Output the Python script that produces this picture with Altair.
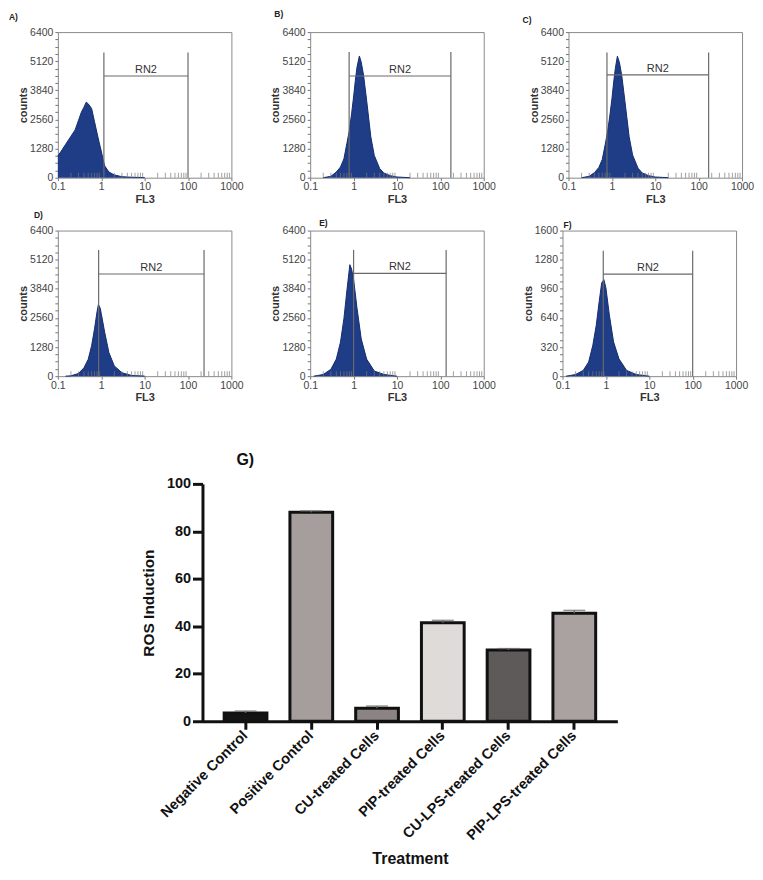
import altair as alt
import pandas as pd

FONT = "Liberation Sans"

# ---------------- Flow cytometry histograms (FL3 vs counts) ----------------
A_X = [0.1, 0.12, 0.15, 0.2, 0.25, 0.3, 0.35, 0.4, 0.45, 0.5, 0.6, 0.7, 0.8, 0.9, 1.0, 1.1, 1.2, 1.5, 2, 3, 5, 10]
A_Y = [960, 1170, 1460, 1820, 2100, 2530, 2890, 3100, 3320, 3250, 3040, 2460, 1960, 1530, 1170, 815, 520, 250, 120, 45, 20, 5]

B_X = [0.2, 0.3, 0.4, 0.5, 0.6, 0.7, 0.8, 0.9, 1.0, 1.1, 1.2, 1.36, 1.5, 1.7, 2.0, 2.5, 3, 4, 5, 7, 10, 20]
B_Y = [0, 60, 250, 470, 835, 1500, 2080, 2810, 3545, 4280, 4860, 5350, 5080, 4500, 3400, 1790, 980, 400, 205, 90, 30, 0]

C_X = [0.2, 0.3, 0.4, 0.5, 0.6, 0.7, 0.8, 0.9, 1.0, 1.1, 1.2, 1.34, 1.5, 1.7, 2.0, 2.5, 3, 4, 5, 7, 10, 20]
C_Y = [0, 60, 230, 450, 800, 1450, 2050, 2750, 3450, 4200, 4800, 5340, 5050, 4450, 3350, 1800, 1000, 420, 210, 90, 30, 0]

D_X = [0.15, 0.2, 0.3, 0.4, 0.5, 0.6, 0.7, 0.8, 0.86, 0.95, 1.0, 1.2, 1.5, 2, 3, 5, 10]
D_Y = [0, 15, 120, 370, 740, 1340, 2080, 2830, 3150, 2980, 2750, 1930, 1040, 450, 150, 30, 5]

E_X = [0.12, 0.15, 0.2, 0.3, 0.4, 0.5, 0.6, 0.7, 0.82, 0.9, 1.0, 1.2, 1.5, 2, 3, 5, 10]
E_Y = [0, 30, 75, 300, 750, 1500, 2540, 3740, 4900, 4710, 4260, 2990, 1640, 750, 225, 75, 0]

F_X = [0.12, 0.15, 0.2, 0.3, 0.4, 0.5, 0.6, 0.7, 0.8, 0.9, 1.0, 1.2, 1.5, 2, 3, 5, 10]
F_Y = [0, 7, 18, 63, 155, 340, 560, 820, 1025, 1060, 970, 673, 377, 190, 63, 18, 0]

# RN2 gate: left, right, vertical-line top, horizontal-line level
GATE_A = [1.15, 100, 5500, 4470]
GATE_B = [0.79, 175, 5520, 4470]
GATE_C = [0.77, 170, 5500, 4520]
GATE_D = [0.87, 234, 5550, 4490]
GATE_E = [1.0, 136, 5550, 4520]
GATE_F = [0.87, 100, 1378, 1122]

YMAX = [6400, 6400, 6400, 6400, 6400, 1600]
TAGS = ["A)", "B)", "C)", "D)", "E)", "F)"]

X_MAJOR = [0.1, 1, 10, 100, 1000]
X_MINOR = [0.2, 0.3, 0.4, 0.5, 0.6, 0.7, 0.8, 0.9,
           2, 3, 4, 5, 6, 7, 8, 9,
           20, 30, 40, 50, 60, 70, 80, 90,
           200, 300, 400, 500, 600, 700, 800, 900]

# ---------------- Bar chart (G) ----------------
TREATMENTS = ["Negative Control", "Positive Control", "CU-treated Cells",
              "PIP-treated Cells", "CU-LPS-treated Cells", "PIP-LPS-treated Cells"]
ROS = [3.5, 88.0, 5.5, 41.5, 30.0, 45.5]
ERR = [0.8, 0.6, 0.9, 1.0, 0.6, 1.2]
BAR_COLORS = ["#141414", "#a59e9d", "#8b8384", "#dedbd8", "#5f5a5a", "#a9a2a1"]

PW, PH = 174, 146
BLUE = "#1f3c86"
GATE_COLOR = "#6a6a6a"


def hist_panel(tag, xs, ys, gate, ymax, tag_dx, tag_dy):
    df = pd.DataFrame({"fl3": xs, "counts": ys})
    xscale = alt.Scale(type="log", domain=[0.1, 1000], nice=False)
    yscale = alt.Scale(domain=[0, ymax], nice=False, zero=True)
    major = int(ymax / 5)
    minor = major / 4
    yvals = [i * minor for i in range(21)]

    xaxis = alt.Axis(values=X_MAJOR, format="~g", title="FL3", grid=False, domain=False,
                     tickSize=3, tickColor="#777", labelFont=FONT, labelFontSize=10.5,
                     labelColor="#444", labelPadding=1, titleFont=FONT, titleFontSize=11,
                     titleFontWeight="bold", titleColor="#333", titlePadding=1, labelFlush=False)
    yaxis = alt.Axis(values=yvals, format="d",
                     labelExpr=f"datum.value % {major} == 0 ? datum.label : ''",
                     title="counts", grid=False, domain=False, tickSize=3, tickColor="#777",
                     labelFont=FONT, labelFontSize=10.5, labelColor="#444", labelPadding=2,
                     titleFont=FONT, titleFontSize=11, titleFontWeight="bold",
                     titleColor="#333", titlePadding=1, labelFlush=False)

    area = alt.Chart(df).mark_area(
        color=BLUE, opacity=1, interpolate="linear",
        line={"color": "#132d6e", "strokeWidth": 1}
    ).encode(
        x=alt.X("fl3:Q", scale=xscale, axis=xaxis),
        y=alt.Y("counts:Q", scale=yscale, axis=yaxis),
    )

    minor_df = pd.DataFrame({"fl3": X_MINOR})
    minor_ticks = alt.Chart(minor_df).mark_tick(
        orient="vertical", color="#777", thickness=1, size=5
    ).encode(x=alt.X("fl3:Q", scale=xscale, axis=xaxis), y=alt.value(PH - 2.5))

    left, right, top, level = gate
    vdf = pd.DataFrame({"fl3": [left, right], "counts": [0, 0], "counts_top": [top, top]})
    vlines = alt.Chart(vdf).mark_rule(color=GATE_COLOR, strokeWidth=1.2).encode(
        x=alt.X("fl3:Q", scale=xscale, axis=xaxis),
        y=alt.Y("counts:Q", scale=yscale, axis=yaxis),
        y2="counts_top:Q",
    )
    hdf = pd.DataFrame({"fl3": [left], "fl3_end": [right], "counts": [level]})
    hline = alt.Chart(hdf).mark_rule(color=GATE_COLOR, strokeWidth=1.2).encode(
        x=alt.X("fl3:Q", scale=xscale, axis=xaxis),
        x2="fl3_end:Q",
        y=alt.Y("counts:Q", scale=yscale, axis=yaxis),
    )
    tdf = pd.DataFrame({"fl3": [(left * right) ** 0.5], "counts": [level], "t": ["RN2"]})
    rn2 = alt.Chart(tdf).mark_text(
        font=FONT, fontSize=11, color="#333", baseline="bottom", dy=-1
    ).encode(
        x=alt.X("fl3:Q", scale=xscale, axis=xaxis),
        y=alt.Y("counts:Q", scale=yscale, axis=yaxis),
        text="t:N",
    )
    tag_df = pd.DataFrame({"t": [tag]})
    tag_text = alt.Chart(tag_df).mark_text(
        font=FONT, fontSize=8.5, fontWeight="bold", color="#222", align="left", baseline="middle"
    ).encode(text="t:N", x=alt.value(tag_dx), y=alt.value(tag_dy))

    return alt.layer(area, minor_ticks, vlines, hline, rn2, tag_text).properties(
        width=PW, height=PH,
        view=alt.ViewBackground(stroke="#8a8a8a", strokeWidth=1),
    )


pA = hist_panel(TAGS[0], A_X, A_Y, GATE_A, YMAX[0], -49, -15)
pB = hist_panel(TAGS[1], B_X, B_Y, GATE_B, YMAX[1], -36, -18)
pC = hist_panel(TAGS[2], C_X, C_Y, GATE_C, YMAX[2], -46, -12)
pD = hist_panel(TAGS[3], D_X, D_Y, GATE_D, YMAX[3], -24, -16)
pE = hist_panel(TAGS[4], E_X, E_Y, GATE_E, YMAX[4], 9, -8)
pF = hist_panel(TAGS[5], F_X, F_Y, GATE_F, YMAX[5], 1, -6)

row1 = alt.hconcat(pA, pB, pC, spacing=25)
row2 = alt.hconcat(pD, pE, pF, spacing=25)
top_grid = alt.vconcat(row1, row2, spacing=5)

# ---------------- Bar chart ----------------
bdf = pd.DataFrame({"Treatment": TREATMENTS, "ROS": ROS, "err": ERR})
bxscale = alt.Scale(domain=TREATMENTS, paddingInner=0.35, paddingOuter=0.33)
byscale = alt.Scale(domain=[0, 100], nice=False)

bx_axis = alt.Axis(title="Treatment", labelAngle=-45, labelAlign="right", labelBaseline="middle",
                   labelFont=FONT, labelFontSize=14.5, labelFontWeight="bold", labelColor="#111",
                   labelPadding=4, tickSize=8, tickWidth=3, tickColor="#111",
                   domainWidth=3, domainColor="#111", titleFont=FONT, titleFontSize=16,
                   titleFontWeight="bold", titleColor="#111", titlePadding=8)
by_axis = alt.Axis(title="ROS Induction", values=[0, 20, 40, 60, 80, 100], grid=False,
                   labelFont=FONT, labelFontSize=14.5, labelFontWeight="bold", labelColor="#111",
                   labelPadding=2, tickSize=10, tickWidth=3, tickColor="#111",
                   domainWidth=3, domainColor="#111", titleFont=FONT, titleFontSize=15.5,
                   titleFontWeight="bold", titleColor="#111", titlePadding=10)

bars = alt.Chart(bdf).mark_bar(stroke="#111", strokeWidth=3).encode(
    x=alt.X("Treatment:N", sort=TREATMENTS, scale=bxscale, axis=bx_axis),
    y=alt.Y("ROS:Q", scale=byscale, axis=by_axis),
    color=alt.Color("Treatment:N", scale=alt.Scale(domain=TREATMENTS, range=BAR_COLORS), legend=None),
)
err_base = alt.Chart(bdf).transform_calculate(hi="datum.ROS + datum.err")
err_rule = err_base.mark_rule(color="#666", strokeWidth=1.5).encode(
    x=alt.X("Treatment:N", sort=TREATMENTS, scale=bxscale, axis=bx_axis),
    y=alt.Y("ROS:Q", scale=byscale, axis=by_axis),
    y2="hi:Q",
)
err_cap = err_base.mark_tick(orient="horizontal", color="#666", thickness=1.5, size=22).encode(
    x=alt.X("Treatment:N", sort=TREATMENTS, scale=bxscale, axis=bx_axis),
    y=alt.Y("hi:Q", scale=byscale, axis=by_axis),
)
g_tag = alt.Chart(pd.DataFrame({"t": ["G)"]})).mark_text(
    font=FONT, fontSize=16, fontWeight="bold", color="#111", align="left", baseline="middle"
).encode(text="t:N", x=alt.value(34), y=alt.value(-24))

bar_chart = alt.layer(bars, err_rule, err_cap, g_tag).properties(
    width=416, height=238, view=alt.ViewBackground(stroke="transparent")
)

spacer = alt.Chart(pd.DataFrame({"a": [0]})).mark_point(opacity=0).encode(
    x=alt.value(0), y=alt.value(0)
).properties(width=82, height=10, view=alt.ViewBackground(stroke="transparent"))

bar_row = alt.hconcat(spacer, bar_chart, spacing=0)

chart = alt.vconcat(top_grid, bar_row, spacing=48).properties(padding=0).configure(
    font=FONT
).configure_view(strokeWidth=1)

chart.save("out.html", embed_options={"renderer": "svg", "actions": False})
